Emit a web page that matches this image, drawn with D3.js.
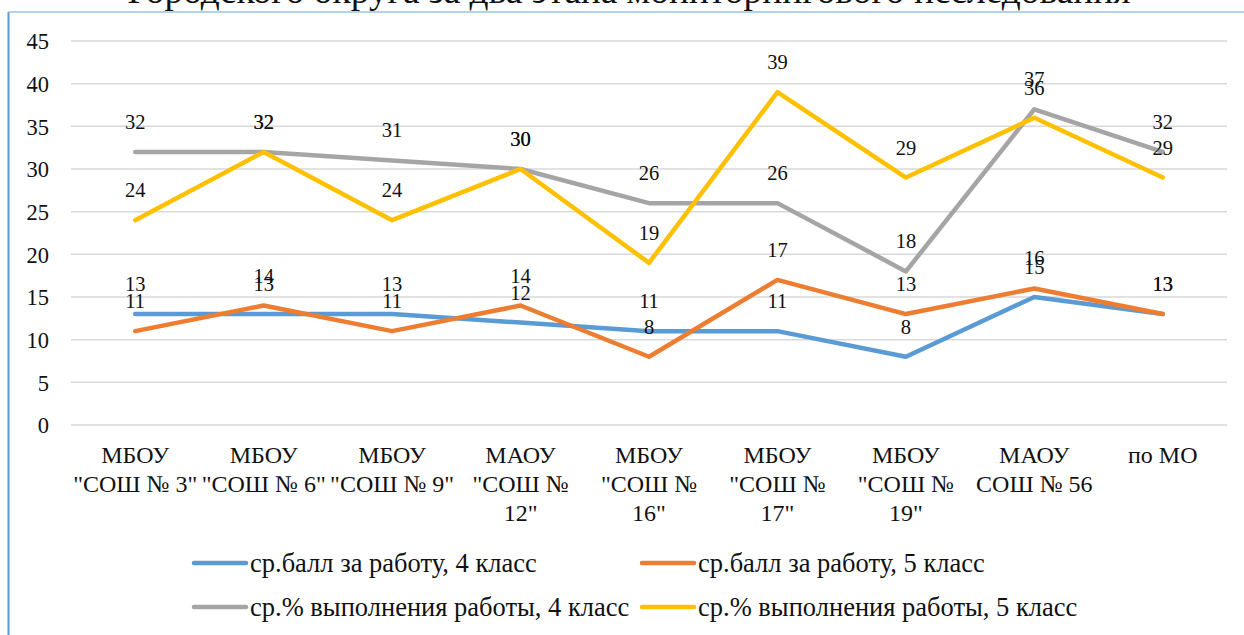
<!DOCTYPE html>
<meta charset='utf-8'>
<html>

<head>
    <title>Средний балл и % выполнения работы</title>
    <script src="https://d3js.org/d3.v7.min.js"></script>
    <style>
        body {
            padding: 0;
            margin: 0;
            background: #fff;
        }
    </style>
</head>

<body>
    <div id="chart"></div>

    <script>
        // подписи школ (переносы строк как на исходной диаграмме)
        const categories = [
            'МБОУ\n"СОШ № 3"',
            'МБОУ\n"СОШ № 6"',
            'МБОУ\n"СОШ № 9"',
            'МАОУ\n"СОШ №\n12"',
            'МБОУ\n"СОШ №\n16"',
            'МБОУ\n"СОШ №\n17"',
            'МБОУ\n"СОШ №\n19"',
            'МАОУ\nСОШ № 56',
            'по МО'
        ];

        const ball4 = [13, 13, 13, 12, 11, 11, 8, 15, 13];
        const ball5 = [11, 14, 11, 14, 8, 17, 13, 16, 13];
        const pct4 = [32, 32, 31, 30, 26, 26, 18, 37, 32];
        const pct5 = [24, 32, 24, 30, 19, 39, 29, 36, 29];

        const seriesNames = [
            "ср.балл за работу, 4 класс",
            "ср.балл за работу, 5 класс",
            "ср.% выполнения работы, 4 класс",
            "ср.% выполнения работы, 5 класс"
        ];
        const seriesColors = ["#5B9BD5", "#ED7D31", "#A5A5A5", "#FFC000"];
        const yTicks = [0, 5, 10, 15, 20, 25, 30, 35, 40, 45];

        const title = "Городского округа за два этапа мониторингового исследования";

        const FONT = "'Liberation Serif'";

        var W = 1244, H = 635;
        var svg = d3.select("#chart").append("svg")
            .attr("width", W)
            .attr("height", H);

        // рамка диаграммы
        svg.append("line")
            .attr("x1", 8.5).attr("x2", 8.5)
            .attr("y1", 12).attr("y2", H)
            .attr("stroke", "#5B9BD5").attr("stroke-width", 2);
        svg.append("line")
            .attr("x1", 8.5).attr("x2", W)
            .attr("y1", 12).attr("y2", 12)
            .attr("stroke", "#9DC3E6").attr("stroke-width", 1.5);

        // заголовок (видна только нижняя строка)
        var titleText = svg.append("text")
            .attr("x", 629)
            .attr("y", 3)
            .attr("text-anchor", "middle")
            .style("font-family", FONT)
            .style("font-size", "30px")
            .attr("fill", "#111")
            .text(title);
        // подгоняем размер под ширину строки на исходнике
        var tl = titleText.node().getComputedTextLength();
        titleText.style("font-size", (30 * 1004 / tl).toFixed(1) + "px");

        var x = d3.scaleBand()
            .domain(categories)
            .range([71, 1227]);

        var y = d3.scaleLinear()
            .domain([0, 45])
            .range([425, 41]);

        // сетка
        svg.append("g")
            .selectAll("line")
            .data(yTicks)
            .enter()
            .append("line")
            .attr("x1", 71)
            .attr("x2", 1227)
            .attr("y1", d => y(d))
            .attr("y2", d => y(d))
            .attr("stroke", "#D9D9D9")
            .attr("stroke-width", 1.5);

        // ось Y
        var yAxis = svg.append("g")
            .attr("transform", "translate(49,0)")
            .call(d3.axisLeft(y).tickValues(yTicks).tickSize(0).tickPadding(0));
        yAxis.select(".domain").remove();
        yAxis.selectAll("text")
            .style("font-family", FONT)
            .style("font-size", "22.5px")
            .attr("dy", "0.35em")
            .attr("fill", "#111");

        // ось X
        var xAxis = svg.append("g")
            .attr("transform", "translate(0,425)")
            .call(d3.axisBottom(x).tickSize(0).tickFormat(""));
        xAxis.select(".domain").remove();
        xAxis.selectAll(".tick").each(function (d) {
            var lines = d.split("\n");
            var t = d3.select(this).append("text")
                .attr("text-anchor", "middle")
                .attr("fill", "#111")
                .style("font-family", FONT)
                .style("font-size", "24px");
            lines.forEach(function (s, i) {
                t.append("tspan")
                    .attr("x", 0)
                    .attr("y", 38 + i * 29)
                    .text(s);
            });
        });

        var allSeries = [ball4, ball5, pct4, pct5];
        var line = d3.line()
            .x((d, i) => x(categories[i]) + x.bandwidth() / 2)
            .y(d => y(d));

        allSeries.forEach(function (vals, k) {
            svg.append("path")
                .datum(vals)
                .attr("d", line)
                .attr("fill", "none")
                .attr("stroke", seriesColors[k])
                .attr("stroke-width", 4.5)
                .attr("stroke-linecap", "round")
                .attr("stroke-linejoin", "round");
        });

        // подписи данных
        allSeries.forEach(function (vals, k) {
            svg.append("g")
                .selectAll("text")
                .data(vals)
                .enter()
                .append("text")
                .attr("x", (d, i) => x(categories[i]) + x.bandwidth() / 2)
                .attr("y", d => y(d) - 23)
                .attr("text-anchor", "middle")
                .attr("fill", "#111")
                .style("font-family", FONT)
                .style("font-size", "20.5px")
                .text(d => d);
        });

        // легенда
        var legendPos = [[192, 563], [640, 563], [192, 607], [640, 607]];
        seriesNames.forEach(function (name, k) {
            var g = svg.append("g")
                .attr("transform", "translate(" + legendPos[k][0] + "," + legendPos[k][1] + ")");
            g.append("line")
                .attr("x1", 2).attr("x2", 54)
                .attr("y1", 0).attr("y2", 0)
                .attr("stroke", seriesColors[k])
                .attr("stroke-width", 4.5)
                .attr("stroke-linecap", "round");
            g.append("text")
                .attr("x", 58)
                .attr("y", 0)
                .attr("dy", "0.33em")
                .attr("fill", "#111")
                .style("font-family", FONT)
                .style("font-size", "26.5px")
                .text(name);
        });
    </script>
</body>

</html>
